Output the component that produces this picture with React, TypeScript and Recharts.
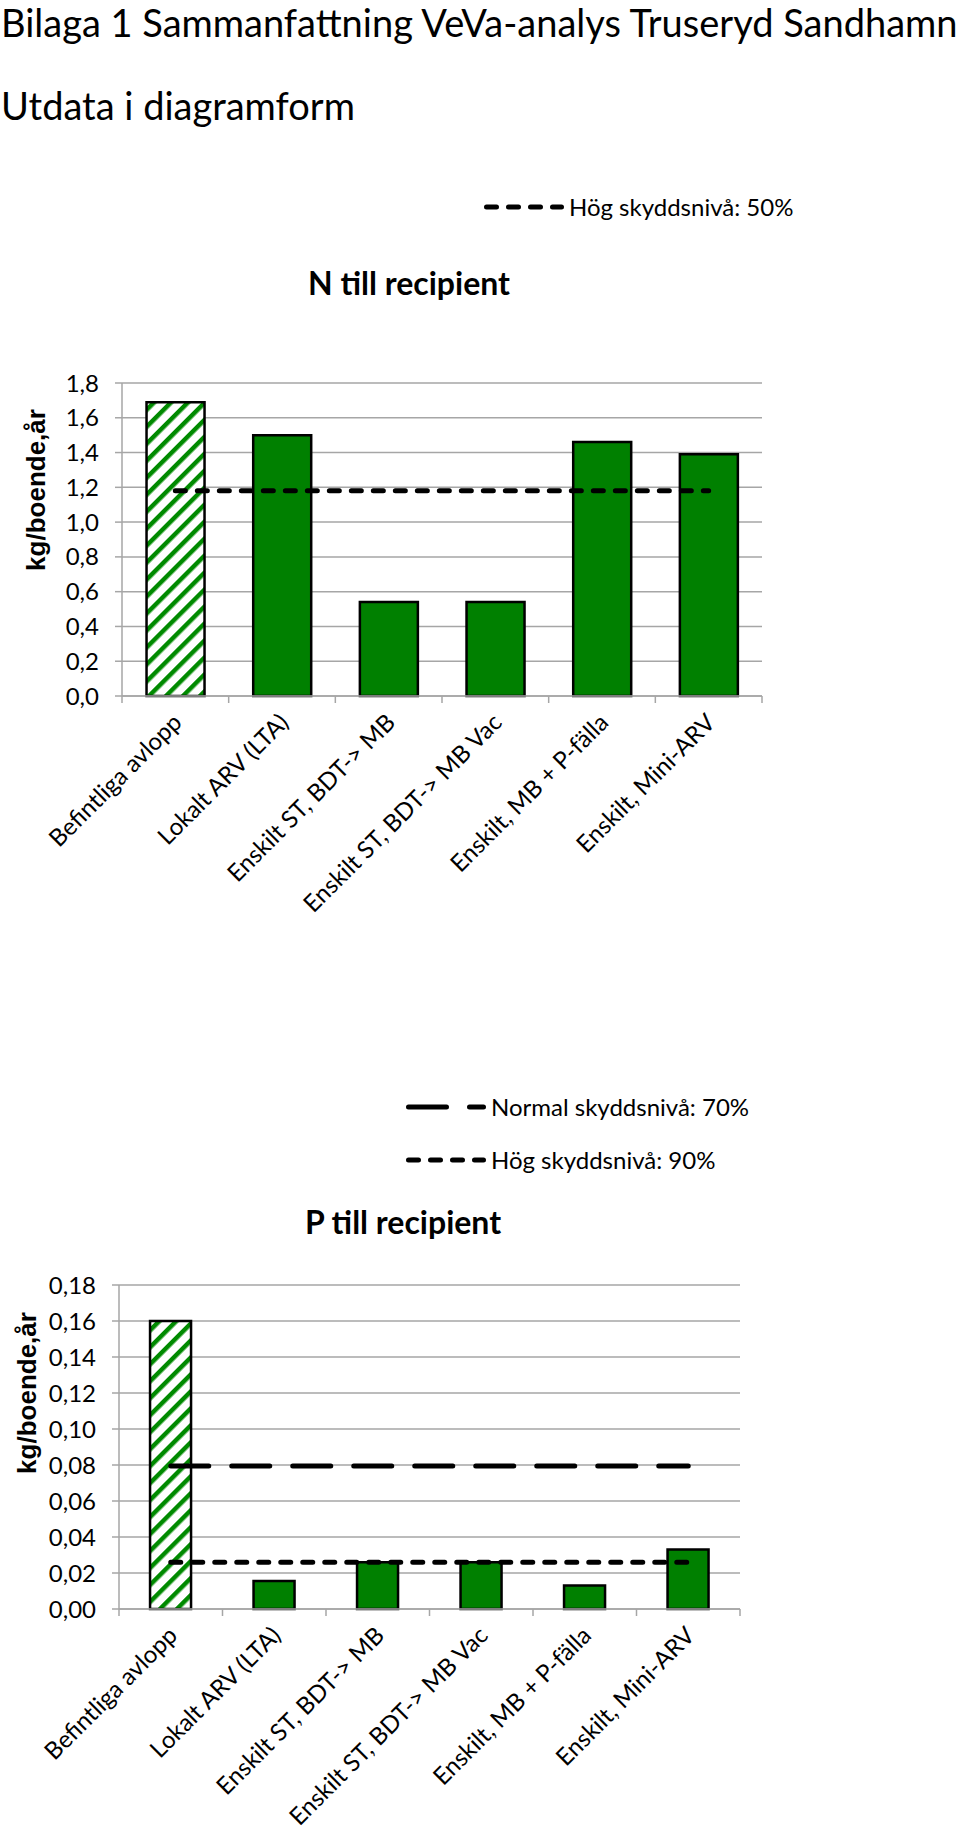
import React from 'react';
import { ComposedChart, Bar, Line, Cell, XAxis, YAxis, CartesianGrid, Legend, Label } from 'recharts';

const categories = [
  'Befintliga avlopp',
  'Lokalt ARV (LTA)',
  'Enskilt ST, BDT-> MB',
  'Enskilt ST, BDT-> MB Vac',
  'Enskilt, MB + P-fälla',
  'Enskilt, Mini-ARV',
];

// N till recipient (kg/boende,år)
const nValues = [1.69, 1.5, 0.54, 0.54, 1.46, 1.39];
const nHog = [1.18, 1.18, 1.18, 1.18, 1.18, 1.18];
const nTicks = [0, 0.2, 0.4, 0.6, 0.8, 1.0, 1.2, 1.4, 1.6, 1.8];

// P till recipient (kg/boende,år)
const pValues = [0.16, 0.0155, 0.026, 0.026, 0.013, 0.033];
const pNormal = [0.0795, 0.0795, 0.0795, 0.0795, 0.0795, 0.0795];
const pHog = [0.026, 0.026, 0.026, 0.026, 0.026, 0.026];
const pTicks = [0, 0.02, 0.04, 0.06, 0.08, 0.1, 0.12, 0.14, 0.16, 0.18];

// the current situation is drawn hatched
const hatchedCategory = 'Befintliga avlopp';

const FONT = "Lato, 'Open Sans', sans-serif";
const GREEN = '#008000';
const GRID = '#a6a6a6';
const SHORT_DASH = '10 12';
const LONG_DASH = '38 23';

const nData = categories.map((name, i) => ({ name, value: nValues[i], hog: nHog[i] }));
const pData = categories.map((name, i) => ({ name, value: pValues[i], normal: pNormal[i], hog: pHog[i] }));

const dashFor: Record<string, string> = { normal: LONG_DASH, hog: SHORT_DASH };
const legendOrder = ['normal', 'hog'];

const CategoryTick = (props: any) => {
  const { x, y, payload, index, band, count } = props;
  const lx = x + 8;
  const ly = y + 28;
  return (
    <g>
      <line x1={x - band / 2} x2={x - band / 2} y1={y} y2={y + 7} stroke={GRID} strokeWidth={1.5} />
      {index === count - 1 && (
        <line x1={x + band / 2} x2={x + band / 2} y1={y} y2={y + 7} stroke={GRID} strokeWidth={1.5} />
      )}
      <text
        x={lx}
        y={ly}
        transform={`rotate(-45, ${lx}, ${ly})`}
        textAnchor="end"
        fontFamily={FONT}
        fontSize={24}
        fill="#000"
      >
        {payload.value}
      </text>
    </g>
  );
};

const LegendBox = (props: any) => {
  const items = (props.payload || [])
    .filter((p: any) => dashFor[p.dataKey])
    .sort((a: any, b: any) => legendOrder.indexOf(a.dataKey) - legendOrder.indexOf(b.dataKey));
  return (
    <div>
      {items.map((entry: any) => (
        <div key={entry.value} style={{ display: 'flex', alignItems: 'center', height: 53 }}>
          <svg width={80} height={10}>
            <line
              x1={2.5}
              x2={77.5}
              y1={5}
              y2={5}
              stroke="#000"
              strokeWidth={5}
              strokeLinecap="round"
              strokeDasharray={dashFor[entry.dataKey]}
            />
          </svg>
          <span style={{ marginLeft: 5, fontSize: 24, fontFamily: FONT, color: '#000', whiteSpace: 'nowrap' }}>
            {entry.value}
          </span>
        </div>
      ))}
    </div>
  );
};

const AxisTitle = ({ cx, cy }: { cx: number; cy: number }) => (
  <text
    x={cx}
    y={cy}
    transform={`rotate(-90, ${cx}, ${cy})`}
    textAnchor="middle"
    dominantBaseline="central"
    fontFamily="'Liberation Sans', Arial, sans-serif"
    fontWeight="bold"
    fontSize={26}
    fill="#000"
  >
    kg/boende,år
  </text>
);

const Hatch = ({ id }: { id: string }) => (
  <defs>
    <pattern id={id} patternUnits="userSpaceOnUse" width={12} height={12} patternTransform="rotate(45)">
      <rect width={12} height={12} fill="#fff" />
      <rect x={0} y={0} width={4.5} height={12} fill="#008a00" />
    </pattern>
  </defs>
);

const App: React.FC = () => {
  const nBand = 640 / categories.length;
  const pBand = 621 / categories.length;
  return (
    <div
      style={{
        position: 'absolute',
        left: 0,
        top: 0,
        width: 960,
        height: 1831,
        background: '#fff',
        overflow: 'hidden',
        fontFamily: FONT,
      }}
    >
      <div style={{ position: 'absolute', left: 1, top: 0, fontSize: 38, lineHeight: '44px', whiteSpace: 'nowrap' }}>
        Bilaga 1 Sammanfattning VeVa-analys Truseryd Sandhamn
      </div>
      <div style={{ position: 'absolute', left: 1, top: 83, fontSize: 38, lineHeight: '44px', whiteSpace: 'nowrap' }}>
        Utdata i diagramform
      </div>

      {/* N chart */}
      <div style={{ position: 'absolute', left: 0, top: 180, width: 800, height: 740 }}>
        <div
          style={{
            position: 'absolute',
            left: 259,
            width: 300,
            top: 84,
            textAlign: 'center',
            fontSize: 32,
            fontWeight: 'bold',
            lineHeight: '38px',
            whiteSpace: 'nowrap',
          }}
        >
          N till recipient
        </div>
        <ComposedChart
          width={800}
          height={740}
          data={nData}
          margin={{ top: 203, right: 38, left: 0, bottom: 0 }}
          barCategoryGap="23%"
        >
          <Hatch id="hatchN" />
          <CartesianGrid vertical={false} stroke={GRID} strokeWidth={1.5} />
          <XAxis
            dataKey="name"
            interval={0}
            height={224}
            tickSize={0}
            tickMargin={0}
            tickLine={false}
            axisLine={{ stroke: GRID, strokeWidth: 1.5 }}
            tick={<CategoryTick band={nBand} count={categories.length} />}
          />
          <YAxis
            width={122}
            domain={[0, 1.8]}
            ticks={nTicks}
            interval={0}
            tickSize={7}
            tickMargin={16}
            tickFormatter={(v: number) => v.toFixed(1).replace('.', ',')}
            tick={{ fill: '#000', fontSize: 24, fontFamily: FONT }}
            tickLine={{ stroke: GRID, strokeWidth: 1.5 }}
            axisLine={{ stroke: GRID, strokeWidth: 1.5 }}
          >
            <Label content={() => <AxisTitle cx={36} cy={310} />} />
          </YAxis>
          <Legend
            layout="vertical"
            align="center"
            verticalAlign="middle"
            content={<LegendBox />}
            wrapperStyle={{ left: 484, top: 0, width: 320 }}
          />
          <Bar dataKey="value" legendType="none" stroke="#000" strokeWidth={2.5} isAnimationActive={false}>
            {nData.map((d) => (
              <Cell key={d.name} fill={d.name === hatchedCategory ? 'url(#hatchN)' : GREEN} />
            ))}
          </Bar>
          <Line
            type="linear"
            dataKey="hog"
            name="Hög skyddsnivå: 50%"
            stroke="#000"
            strokeWidth={5}
            strokeLinecap="round"
            strokeDasharray={SHORT_DASH}
            dot={false}
            activeDot={false}
            isAnimationActive={false}
          />
        </ComposedChart>
      </div>

      {/* P chart */}
      <div style={{ position: 'absolute', left: 0, top: 1070, width: 800, height: 761 }}>
        <div
          style={{
            position: 'absolute',
            left: 253,
            width: 300,
            top: 133,
            textAlign: 'center',
            fontSize: 32,
            fontWeight: 'bold',
            lineHeight: '38px',
            whiteSpace: 'nowrap',
          }}
        >
          P till recipient
        </div>
        <ComposedChart
          width={800}
          height={761}
          data={pData}
          margin={{ top: 215, right: 60, left: 0, bottom: 0 }}
          barCategoryGap="30%"
        >
          <Hatch id="hatchP" />
          <CartesianGrid vertical={false} stroke={GRID} strokeWidth={1.5} />
          <XAxis
            dataKey="name"
            interval={0}
            height={222}
            tickSize={0}
            tickMargin={0}
            tickLine={false}
            axisLine={{ stroke: GRID, strokeWidth: 1.5 }}
            tick={<CategoryTick band={pBand} count={categories.length} />}
          />
          <YAxis
            width={119}
            domain={[0, 0.18]}
            ticks={pTicks}
            interval={0}
            tickSize={7}
            tickMargin={16}
            tickFormatter={(v: number) => v.toFixed(2).replace('.', ',')}
            tick={{ fill: '#000', fontSize: 24, fontFamily: FONT }}
            tickLine={{ stroke: GRID, strokeWidth: 1.5 }}
            axisLine={{ stroke: GRID, strokeWidth: 1.5 }}
          >
            <Label content={() => <AxisTitle cx={27} cy={323} />} />
          </YAxis>
          <Legend
            layout="vertical"
            align="center"
            verticalAlign="middle"
            content={<LegendBox />}
            wrapperStyle={{ left: 406, top: 10, width: 380 }}
          />
          <Bar dataKey="value" legendType="none" stroke="#000" strokeWidth={2.5} isAnimationActive={false}>
            {pData.map((d) => (
              <Cell key={d.name} fill={d.name === hatchedCategory ? 'url(#hatchP)' : GREEN} />
            ))}
          </Bar>
          <Line
            type="linear"
            dataKey="normal"
            name="Normal skyddsnivå: 70%"
            stroke="#000"
            strokeWidth={5}
            strokeLinecap="round"
            strokeDasharray={LONG_DASH}
            dot={false}
            activeDot={false}
            isAnimationActive={false}
          />
          <Line
            type="linear"
            dataKey="hog"
            name="Hög skyddsnivå: 90%"
            stroke="#000"
            strokeWidth={5}
            strokeLinecap="round"
            strokeDasharray={SHORT_DASH}
            dot={false}
            activeDot={false}
            isAnimationActive={false}
          />
        </ComposedChart>
      </div>
    </div>
  );
};

export default App;
